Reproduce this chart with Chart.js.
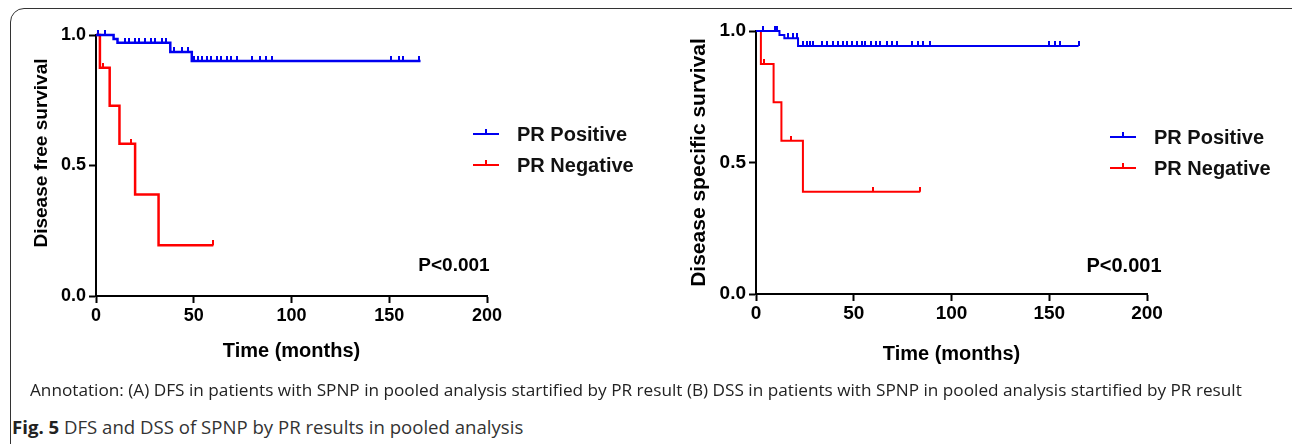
<!DOCTYPE html>
<html>
<head>
<meta charset="utf-8">
<script src="https://cdn.jsdelivr.net/npm/chart.js@4.4.1/dist/chart.umd.min.js"></script>
<style>
  body { margin: 0; background: #fff; width: 1292px; height: 444px; overflow: hidden; position: relative; }
  .frame { position: absolute; left: 10px; top: 8px; width: 1300px; height: 460px; border: 1.5px solid #333; border-radius: 14px; }
  canvas { position: absolute; top: 0; }
  .note { position: absolute; left: 30px; top: 378px; font-family: 'Open Sans', sans-serif; font-size: 17.2px; color: #222; white-space: nowrap; }
  .fig { position: absolute; left: 12px; top: 414px; font-family: 'Open Sans', sans-serif; font-size: 18.6px; color: #333; white-space: nowrap; }
  .fig b { color: #222; }
</style>
</head>
<body>
<div class="frame"></div>
<canvas id="dfs" width="660" height="380" style="left:0px"></canvas>
<canvas id="dss" width="632" height="380" style="left:660px"></canvas>
<div class="note">Annotation: (A) DFS in patients with SPNP in pooled analysis startified by PR result (B) DSS in patients with SPNP in pooled analysis startified by PR result</div>
<div class="fig"><b>Fig. 5</b> DFS and DSS of SPNP by PR results in pooled analysis</div>
<script>
// Kaplan-Meier curves: step times (months) and survival after each step
const groups = ['PR Positive', 'PR Negative'];

const dfsPosTime = [0, 9, 11, 38, 49, 166];
const dfsPosSurv = [1, 0.985, 0.97, 0.935, 0.90, 0.90];
const dfsPosCens = [1, 4.5, 15, 17, 20, 22, 25, 28, 30, 34, 36, 40, 44, 47, 50, 52, 54, 57, 59, 62, 64, 67, 69, 72, 80, 84, 87, 90, 151, 155, 157, 165];

const dfsNegTime = [0, 2, 7, 12, 20, 32, 60];
const dfsNegSurv = [1, 0.875, 0.729, 0.583, 0.389, 0.194, 0.194];
const dfsNegCens = [3.5, 18, 60];

const dssPosTime = [0, 12, 14.5, 21.5, 165];
const dssPosSurv = [1, 0.985, 0.972, 0.943, 0.943];
const dssPosCens = [3.5, 9.5, 10.5, 16.5, 19, 21, 24, 26, 27.5, 29, 34, 36.5, 39.5, 42, 44.5, 46.5, 49, 51.5, 54, 56, 59, 61.5, 63.5, 67, 69.5, 72, 80, 83, 85.5, 89, 150, 153, 155.5, 165];

const dssNegTime = [0, 2.5, 9, 13, 24, 84];
const dssNegSurv = [1, 0.875, 0.729, 0.583, 0.389, 0.389];
const dssNegCens = [4, 18, 60, 84];

const xTicks = [0, 50, 100, 150, 200];
const yTicks = [0, 0.5, 1];
const pText = 'P<0.001';

const BLUE = '#0000f0';
const RED = '#ff0000';
const FONT = '"Liberation Sans", Arial, sans-serif';

// little upward tick used as censor mark
function censorMark(color) {
  const c = document.createElement('canvas');
  c.width = 2; c.height = 10;
  const g = c.getContext('2d');
  g.fillStyle = color;
  g.fillRect(0, 0, 2, 5);
  return c;
}

function survAt(times, surv, t) {
  let s = surv[0];
  for (let i = 0; i < times.length; i++) {
    if (times[i] <= t) s = surv[i];
  }
  return s;
}

function curve(label, times, surv, color, width) {
  return {
    label: label,
    data: times.map((t, i) => ({x: t, y: surv[i]})),
    borderColor: color,
    borderWidth: width,
    showLine: true,
    stepped: true,
    pointRadius: 0,
    fill: false,
    clip: false
  };
}

function censors(times, surv, cens, color) {
  return {
    label: '',
    data: cens.map(t => ({x: t, y: survAt(times, surv, t)})),
    showLine: false,
    pointStyle: censorMark(color),
    pointRadius: 3,
    clip: false
  };
}

const overlay = {
  id: 'overlay',
  afterDraw(chart, args, o) {
    const ctx = chart.ctx;
    ctx.save();
    const cols = [BLUE, RED];
    groups.forEach((g, i) => {
      const y = o.legendY + i * o.legendGap;
      ctx.strokeStyle = cols[i];
      ctx.lineWidth = 2;
      ctx.beginPath();
      ctx.moveTo(o.legendX, y);
      ctx.lineTo(o.legendX + 26, y);
      ctx.moveTo(o.legendX + 13, y);
      ctx.lineTo(o.legendX + 13, y - 5);
      ctx.stroke();
      ctx.fillStyle = '#111';
      ctx.font = 'bold 20px ' + FONT;
      ctx.textBaseline = 'middle';
      ctx.textAlign = 'left';
      ctx.fillText(g, o.legendX + 44, y + 1);
    });
    ctx.font = 'bold ' + o.pSize + 'px ' + FONT;
    ctx.textAlign = 'center';
    ctx.fillStyle = '#000';
    ctx.fillText(pText, o.pX, o.pY);
    if (o.yTitle) {
      ctx.translate(o.yTitleX, o.yTitleY);
      ctx.rotate(-Math.PI / 2);
      ctx.font = 'bold ' + o.yTitleSize + 'px ' + FONT;
      ctx.fillText(o.yTitle, 0, 0);
    }
    ctx.restore();
  }
};

function makeChart(id, yTitle, sets, lay) {
  return new Chart(document.getElementById(id), {
    type: 'scatter',
    data: { datasets: sets },
    plugins: [overlay],
    options: {
      responsive: false,
      animation: false,
      devicePixelRatio: 1,
      layout: { padding: lay.padding },
      plugins: {
        legend: { display: false },
        tooltip: { enabled: false },
        overlay: lay.overlay
      },
      scales: {
        x: {
          type: 'linear',
          min: 0, max: 200,
          afterFit: s => { s.height = lay.xHeight; },
          afterBuildTicks: s => { s.ticks = xTicks.map(v => ({value: v})); },
          ticks: { color: '#000', padding: lay.xPad, font: { family: FONT, size: lay.tickSize, weight: 'bold' } },
          grid: { drawOnChartArea: false, tickLength: 7, tickWidth: 2, tickColor: '#000' },
          border: { color: '#000', width: 2 },
          title: { display: true, text: 'Time (months)', color: '#000', padding: {top: 0, bottom: 1}, font: { family: FONT, size: 20, weight: 'bold' } }
        },
        y: {
          type: 'linear',
          min: 0, max: 1,
          afterFit: s => { s.width = lay.yWidth; },
          afterBuildTicks: s => { s.ticks = yTicks.map(v => ({value: v})); },
          ticks: { color: '#000', padding: 3, font: { family: FONT, size: lay.tickSize, weight: 'bold' }, callback: v => v.toFixed(1) },
          grid: { drawOnChartArea: false, tickLength: 7, tickWidth: 2, tickColor: '#000' },
          border: { color: '#000', width: 2 },
          title: { display: !!yTitle, text: yTitle, color: '#000', padding: {top: 0, bottom: 0}, font: { family: FONT, size: lay.yTitleSize, weight: 'bold' } }
        }
      }
    }
  });
}

makeChart('dfs', '', [
  curve(groups[0], dfsPosTime, dfsPosSurv, BLUE, 2.5),
  curve(groups[1], dfsNegTime, dfsNegSurv, RED, 2.5),
  censors(dfsPosTime, dfsPosSurv, dfsPosCens, BLUE),
  censors(dfsNegTime, dfsNegSurv, dfsNegCens, RED)
], {
  padding: { left: 30, right: 173, top: 35, bottom: 16 },
  xHeight: 68, yWidth: 66, xPad: 2, tickSize: 18, yTitleSize: 19,
  overlay: { legendX: 473, legendY: 134, legendGap: 31, pX: 454, pY: 266, pSize: 19,
             yTitle: 'Disease free survival', yTitleX: 42, yTitleY: 153, yTitleSize: 19 }
});

makeChart('dss', 'Disease specific survival', [
  curve(groups[0], dssPosTime, dssPosSurv, BLUE, 2),
  curve(groups[1], dssNegTime, dssNegSurv, RED, 2),
  censors(dssPosTime, dssPosSurv, dssPosCens, BLUE),
  censors(dssNegTime, dssNegSurv, dssNegCens, RED)
], {
  padding: { left: 27, right: 145, top: 31, bottom: 13 },
  xHeight: 73, yWidth: 69, xPad: 1, tickSize: 19, yTitleSize: 21,
  overlay: { legendX: 450, legendY: 137, legendGap: 31, pX: 464, pY: 266, pSize: 20 }
});
</script>
</body>
</html>
